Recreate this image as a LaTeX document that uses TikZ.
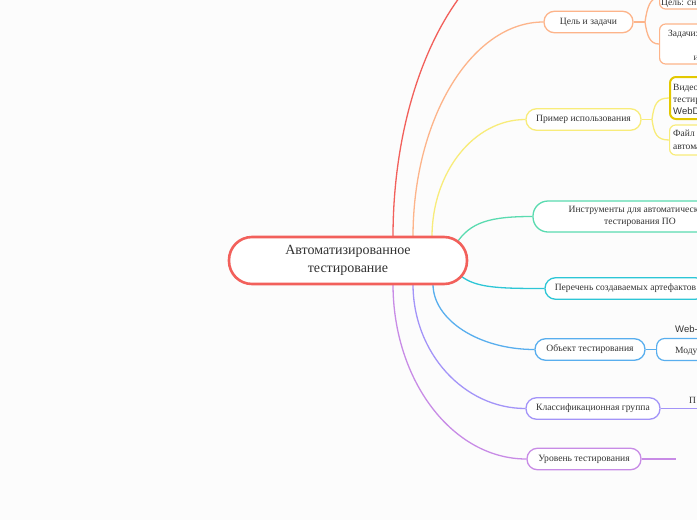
\documentclass[tikz,border=0pt]{standalone}
\usepackage{fontspec}
\setmainfont{Liberation Serif}
\newfontfamily\sansf{Liberation Sans}
\usetikzlibrary{calc}
\definecolor{bgc}{HTML}{FCFCFC}
\definecolor{txt}{HTML}{333333}
\definecolor{cred}{HTML}{F2605B}
\definecolor{corange}{HTML}{FDB48A}
\definecolor{cyellow}{HTML}{F8EC7A}
\definecolor{cgold}{HTML}{E3C800}
\definecolor{cgreen}{HTML}{5ADBB0}
\definecolor{ccyan}{HTML}{2DC6D6}
\definecolor{cblue}{HTML}{58AEEE}
\definecolor{clav}{HTML}{A394F8}
\definecolor{cviol}{HTML}{C88BE6}
\tikzset{
  conn/.style={line width=1.3pt},
  topic/.style={draw, fill=white, line width=1.3pt, rounded corners=10.5pt,
    minimum height=21.5pt, inner xsep=0pt, inner ysep=0pt, text=txt,
    font=\fontsize{9.6}{12.5}\selectfont},
  subbox/.style={draw, fill=white, line width=1.2pt, rounded corners=6pt,
    anchor=west, minimum width=120pt, inner sep=0pt},
  subtxt/.style={anchor=base west, inner sep=0pt, text=txt,
    font=\fontsize{9.5}{11}\selectfont},
  subsans/.style={anchor=base west, inner sep=0pt, text=txt,
    font=\sansf\fontsize{9.5}{11}\selectfont},
}
\begin{document}
\begin{tikzpicture}[x=1pt,y=-1pt]
\useasboundingbox (0,0) rectangle (697,520);
\fill[bgc] (0,0) rectangle (697,520);
\clip (0,0) rectangle (697,520);

% start points on central topic
\coordinate (sR) at (393,237);
\coordinate (sO) at (413,237);
\coordinate (sY) at (432,237);
\coordinate (sG) at (456,244);
\coordinate (sC) at (461,276);
\coordinate (sB) at (433,284);
\coordinate (sL) at (413,284);
\coordinate (sV) at (393,284);
\coordinate (eR) at (560,-63);

% first level topics
\node[topic, draw=corange, minimum width=89pt] (c1) at (588.5,22) {Цель и задачи};
\node[topic, draw=cyellow, minimum width=115pt] (c3) at (583.5,119.5) {Пример использования};
\node[topic, draw=cgreen, minimum width=214pt, minimum height=31pt, rounded corners=15pt, align=center] (c4) at (640,216.5) {Инструменты для автоматического\\тестирования ПО};
\node[topic, draw=ccyan, minimum width=161pt] (c5) at (625.5,288.5) {Перечень создаваемых артефактов};
\node[topic, draw=cblue, minimum width=110pt] (c6) at (590,349.5) {Объект тестирования};
\node[topic, draw=clav, minimum width=134pt] (c7) at (593,408.5) {Классификационная группа};
\node[topic, draw=cviol, minimum width=114pt] (c8) at (584,459) {Уровень тестирования};

% connectors from central topic
\draw[conn, cred] (sR) .. controls (393,71) and (468,-63) .. (eR);
\draw[conn, corange] (sO) .. controls (413,118) and (472,22) .. (c1.west);
\draw[conn, cyellow] (sY) .. controls (432,172) and (474,119.5) .. (c3.west);
\draw[conn, cgreen] (sG) .. controls (470,222) and (490,216.5) .. (c4.west);
\draw[conn, ccyan] (sC) .. controls (476,288) and (500,288.5) .. (c5.west);
\draw[conn, cblue] (sB) .. controls (433,320) and (479,349.5) .. (c6.west);
\draw[conn, clav] (sL) .. controls (413,353) and (464,408.5) .. (c7.west);
\draw[conn, cviol] (sV) .. controls (393,381) and (453,459) .. (c8.west);

% central topic
\node[draw=cred, fill=white, line width=2.6pt, rounded corners=23pt,
  minimum width=238pt, minimum height=47pt, align=center, text=txt,
  font=\fontsize{14}{18}\selectfont] (root) at (348,260.5)
  {Автоматизированное\\тестирование};

% --- Цель и задачи children
\node[subbox, draw=corange, minimum height=23pt] (g1) at (659,-2.5) {};
\node[subbox, draw=corange, minimum height=40pt] (g2) at (659,44) {};
\coordinate (f1) at (645,22);
\draw[conn, corange] (c1.east) -- (f1);
\draw[conn, corange] (f1) .. controls (647,8) and (650,-2.5) .. (g1.west);
\draw[conn, corange] (f1) .. controls (647,36) and (650,44) .. (g2.west);
\node[subtxt] (t1) at (661,5) {Цель: сн};
\node[subtxt] (t2) at (668,36) {Задачи:};
\node[subtxt] (t2b) at (693.5,60) {и};

% --- Пример использования children
\node[subbox, draw=cgold, line width=2pt, minimum height=42pt] (g3) at (669,98) {};
\node[subbox, draw=cyellow, minimum height=30pt] (g4) at (669,140) {};
\coordinate (f3) at (652,119.5);
\draw[conn, cyellow] (c3.east) -- (f3);
\draw[conn, cyellow] (f3) .. controls (654,104) and (657,98) .. (g3.west);
\draw[conn, cyellow] (f3) .. controls (654,134) and (657,140) .. (g4.west);
\node[subtxt] (t3) at (673,90) {Видео};
\node[subtxt] (t4) at (673,102) {тестир};
\node[subsans] (t5) at (673,114.5) {WebD};
\node[subtxt] (t6) at (673,136.5) {Файл};
\node[subtxt] (t7) at (673,149.5) {автома};

% --- Объект тестирования children
\node[subbox, draw=cblue, minimum height=22pt, rounded corners=8pt] (g5) at (656,349.5) {};
\draw[conn, cblue] (c6.east) -- (g5.west);
\node[subtxt] (t8) at (675,353.5) {Модул};
\node[subsans] (t9) at (675,332.5) {Web-};

% --- Классификационная группа child
\coordinate (g6) at (720,408.5);
\draw[conn, clav] (c7.east) -- (g6);
\node[subtxt] (t10) at (689,403) {П};

% --- Уровень тестирования child
\coordinate (g7) at (676,459);
\draw[conn, cviol] (c8.east) -- (g7);
\end{tikzpicture}
\end{document}
